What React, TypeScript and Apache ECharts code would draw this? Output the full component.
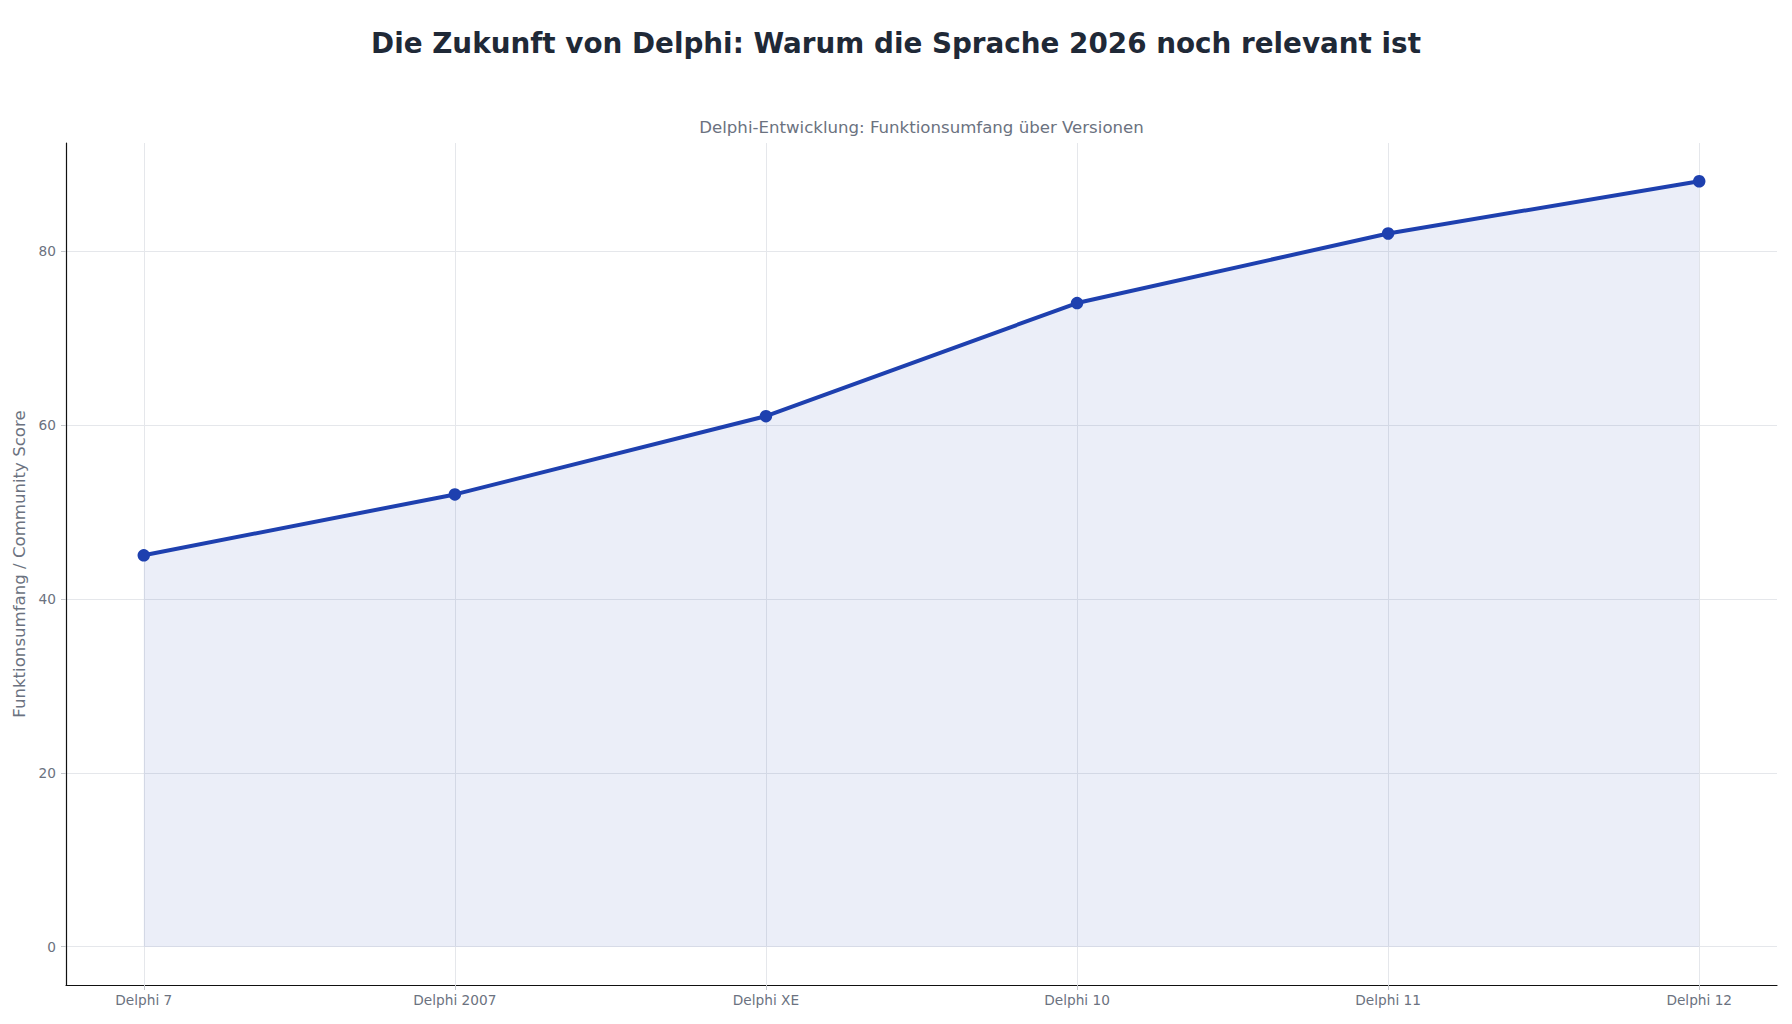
import React, { useEffect, useRef } from "react";
import * as echarts from "echarts";

const categories = ["Delphi 7", "Delphi 2007", "Delphi XE", "Delphi 10", "Delphi 11", "Delphi 12"];
const scores = [45, 52, 61, 74, 82, 88];
const yTicks = [0, 20, 40, 60, 80];
const titleText = "Die Zukunft von Delphi: Warum die Sprache 2026 noch relevant ist";
const subtitleText = "Delphi-Entwicklung: Funktionsumfang über Versionen";
const yAxisName = "Funktionsumfang / Community Score";

const FONT = "'DejaVu Sans', sans-serif";

export default function App() {
  const ref = useRef<HTMLDivElement>(null);
  useEffect(() => {
    document.body.style.margin = "0";
    const chart = echarts.init(ref.current!, null, { renderer: "svg" });
    const xIdx = categories.map((_, i) => i);
    const option = {
      animation: false,
      backgroundColor: "#ffffff",
      textStyle: { fontFamily: FONT },
      graphic: [
        {
          type: "text",
          x: 896,
          y: 43,
          style: {
            text: titleText,
            fill: "#1f2937",
            font: `bold 27.8px ${FONT}`,
            textAlign: "center",
            textVerticalAlign: "middle",
          },
        },
        {
          type: "text",
          x: 921.5,
          y: 127,
          style: {
            text: subtitleText,
            fill: "#6b7280",
            font: `16.6px ${FONT}`,
            textAlign: "center",
            textVerticalAlign: "middle",
          },
        },
      ],
      grid: { left: 66, right: 15, top: 143, bottom: 39, containLabel: false },
      xAxis: {
        type: "value",
        min: -0.25,
        max: 5.25,
        axisLine: { show: true, onZero: false, lineStyle: { color: "#111111", width: 1.2 } },
        axisTick: { show: true, length: 5, customValues: xIdx, lineStyle: { color: "#c4c7cc", width: 1 } },
        axisLabel: {
          customValues: xIdx,
          formatter: (v: number) => categories[Math.round(v)] ?? "",
          color: "#6b7280",
          fontSize: 13.7,
          fontFamily: FONT,
          margin: 8,
        },
        splitLine: { show: true, lineStyle: { color: "#e5e7eb", width: 1 } },
      },
      yAxis: {
        type: "value",
        min: -4.4,
        max: 92.4,
        name: yAxisName,
        nameLocation: "middle",
        nameGap: 31,
        nameTextStyle: { color: "#6b7280", fontSize: 16.6, fontFamily: FONT },
        axisLine: { show: true, onZero: false, lineStyle: { color: "#111111", width: 1.2 } },
        axisTick: { show: true, length: 5, customValues: yTicks, lineStyle: { color: "#c4c7cc", width: 1 } },
        axisLabel: {
          customValues: yTicks,
          color: "#6b7280",
          fontSize: 13.7,
          fontFamily: FONT,
          margin: 10,
        },
        splitLine: { show: true, lineStyle: { color: "#e5e7eb", width: 1 } },
      },
      series: [
        {
          type: "line",
          data: scores.map((v, i) => [i, v]),
          symbol: "circle",
          symbolSize: 12.5,
          lineStyle: { color: "#1e40af", width: 4 },
          itemStyle: { color: "#1e40af" },
          areaStyle: { color: "rgba(30,64,175,0.13)", origin: 0 },
          z: 3,
        },
      ],
    };
    chart.setOption(option as any);
    return () => chart.dispose();
  }, []);
  return <div ref={ref} style={{ position: "absolute", left: 0, top: 0, width: 1792, height: 1024 }} />;
}
